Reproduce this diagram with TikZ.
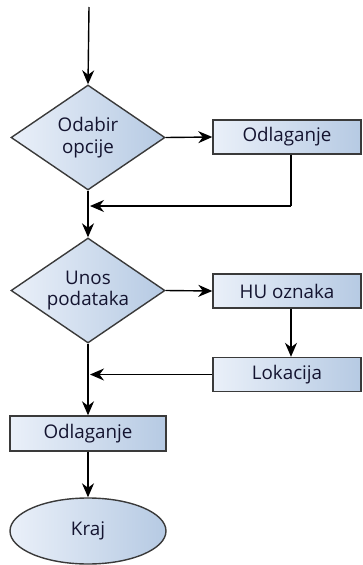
\documentclass[tikz,border=0pt]{standalone}
\usepackage{fontspec}
\setmainfont{Open Sans}
\usetikzlibrary{shapes.geometric,arrows.meta}
\definecolor{fillL}{HTML}{EAF0F9}
\definecolor{fillR}{HTML}{B6CAE3}
\definecolor{edge}{HTML}{3A3A3A}
\definecolor{txt}{HTML}{141430}
\begin{document}
\begin{tikzpicture}[x=1pt,y=-1pt,
  base/.style={draw=edge,line width=1.4pt,left color=fillL,right color=fillR,
    text=txt,font=\fontsize{18.8}{21.5}\selectfont,inner sep=0pt,align=center},
  decision/.style={base,diamond,minimum width=154pt,minimum height=105pt,aspect=1.47},
  process/.style={base,rectangle,minimum width=148pt,minimum height=34pt},
  terminal/.style={base,ellipse,minimum width=156pt,minimum height=66pt},
  flow/.style={draw=black,line width=1.4pt,-{Stealth[length=14pt,width=12pt,inset=4.5pt]}},
  plain/.style={draw=black,line width=1.4pt}]
\useasboundingbox (0,0) rectangle (362,565);
\coordinate (start) at (89,7);
\node[decision] (d1) at (88,137.5) {Odabir\\opcije};
\node[process] (p1) at (287,137) {Odlaganje};
\coordinate (j1) at (89,206);
\coordinate (c1) at (291,206);
\node[decision] (d2) at (88,290.5) {Unos\\podataka};
\node[process] (p2) at (287,291) {HU oznaka};
\node[process] (p3) at (287,374.5) {Lokacija};
\coordinate (j2) at (89,374.5);
\node[process, minimum width=156pt, minimum height=35pt] (p4) at (88,433.5) {Odlaganje};
\node[terminal] (t) at (88,531) {Kraj};
\draw[flow] (start) -- (d1.north);
\draw[flow] (d1.east) -- (p1.west);
\draw[plain] (p1.south -| c1) -- (c1);
\draw[flow] (c1) -- ([xshift=1pt]j1);
\draw[flow] (d1.south) -- (d2.north);
\draw[flow] (d2.east) -- (p2.west);
\draw[flow] (p2.south -| c1) -- (p3.north -| c1);
\draw[flow] (p3.west) -- ([xshift=1pt]j2);
\draw[flow] (d2.south) -- (p4.north);
\draw[flow] (p4.south) -- (t.north);
\end{tikzpicture}
\end{document}
